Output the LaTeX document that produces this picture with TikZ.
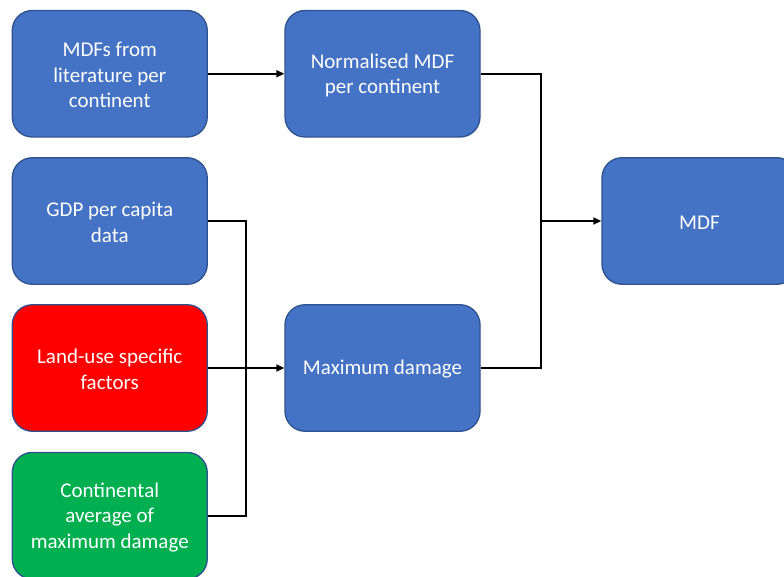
\documentclass[tikz,border=0pt]{standalone}
\usepackage{fontspec}
\setmainfont{Carlito}
\usetikzlibrary{arrows.meta}
\definecolor{boxblue}{HTML}{4472C4}
\definecolor{boxedge}{HTML}{2F528F}
\definecolor{boxred}{HTML}{FF0000}
\definecolor{boxgreen}{HTML}{00B050}
\tikzset{
  procbox/.style={draw=boxedge, line width=1.3pt, fill=boxblue, rounded corners=20pt,
    minimum width=195pt, minimum height=126.5pt, text width=185pt, align=center,
    text=white, inner sep=0pt,
    font=\fontsize{21pt}{25.5pt}\selectfont},
  boxtext/.style={text=white, align=center, inner sep=0pt,
    font=\fontsize{21pt}{25.5pt}\selectfont},
  link/.style={line width=1.6pt, black},
  arr/.style={link, -{Triangle[length=8pt, width=7pt]}}
}
\begin{document}
\begin{tikzpicture}[x=1pt, y=-1pt]
  \useasboundingbox (0,0) rectangle (784,577);
  \begin{scope}
    \clip (0,0) rectangle (784,577);
    % input column
    \node[procbox] (mdflit) at (109.75,73.75) {};
    \node[procbox] (gdp) at (109.75,221) {};
    \node[procbox, fill=boxred] (landuse) at (109.75,368) {};
    \node[procbox, fill=boxgreen] (contavg) at (109.75,515.7) {};
    % intermediate column
    \node[procbox] (normmdf) at (382.5,73.75) {};
    \node[procbox] (maxdmg) at (382.5,368) {};
    % output
    \node[procbox] (mdf) at (699.5,221) {};
  \end{scope}
  % box labels, set slightly below each box centre
  \node[boxtext] (tmdflit) at ([yshift=-1.5pt]mdflit.center) {MDFs from\\literature per\\continent};
  \node[boxtext] (tgdp) at ([yshift=-1.5pt]gdp.center) {GDP per capita\\data};
  \node[boxtext] (tlanduse) at ([yshift=-1.5pt]landuse.center) {Land-use specific\\factors};
  \node[boxtext] (tcontavg) at ([yshift=-1.5pt]contavg.center) {Continental\\average of\\maximum damage};
  \node[boxtext] (tnormmdf) at ([yshift=-1.5pt]normmdf.center) {Normalised MDF\\per continent};
  \node[boxtext] (tmaxdmg) at ([yshift=-1.5pt]maxdmg.center) {Maximum damage};
  \node[boxtext] (tmdf) at ([yshift=-1.5pt]mdf.center) {MDF};
  % junction points
  \coordinate (jl) at (245.7,368);
  \coordinate (jr) at (540.7,221);
  % connectors
  \draw[arr] (mdflit.east) -- (normmdf.west);
  \draw[link] (gdp.east) -| (jl);
  \draw[link] (contavg.east) -| (jl);
  \draw[arr] (landuse.east) -- (maxdmg.west);
  \draw[link] (normmdf.east) -| (jr);
  \draw[link] (maxdmg.east) -| (jr);
  \draw[arr] (jr) -- (mdf.west);
\end{tikzpicture}
\end{document}
